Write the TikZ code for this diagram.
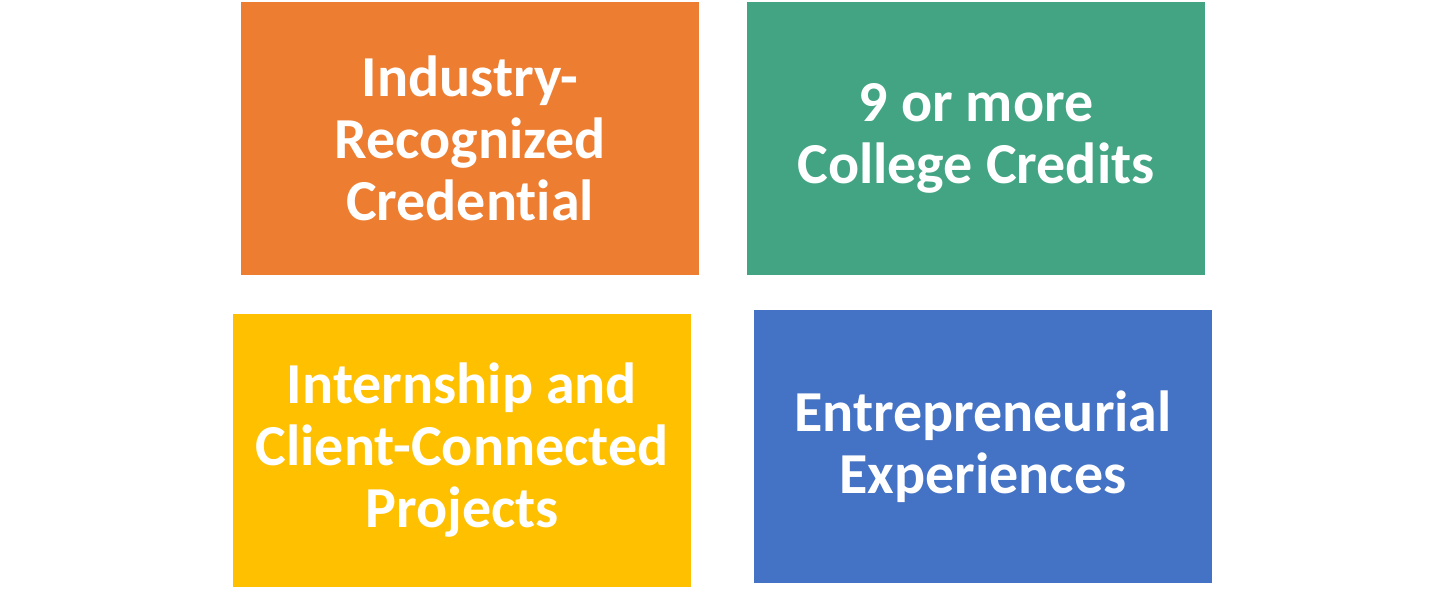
\documentclass[tikz,border=0pt]{standalone}
\usepackage{fontspec}
\setmainfont[Ligatures=NoCommon]{Carlito}
\usetikzlibrary{positioning}

\definecolor{credorange}{HTML}{ED7D31}
\definecolor{credgreen}{HTML}{43A484}
\definecolor{credyellow}{HTML}{FFC000}
\definecolor{credblue}{HTML}{4472C4}

\begin{document}
\begin{tikzpicture}[
    x=1pt, y=-1pt,
    box/.style={minimum width=458pt, minimum height=273pt, inner sep=0pt, align=center,
      text=white, font=\bfseries\fontsize{58}{62}\selectfont}
  ]
    \useasboundingbox (0,0) rectangle (1448,600);
    \node[box, fill=credorange] (credential) at (470,138.5) {Industry-\\Recognized\\Credential};
    \node[box, fill=credgreen] (credits) at (976,138.5) {9 or more\\College Credits};
    \node[box, fill=credyellow] (internship) at (462,450.5) {Internship and\\Client-Connected\\Projects};
    \node[box, fill=credblue] (entrepreneur) at (983,446.5) {Entrepreneurial\\Experiences};
  \end{tikzpicture}
\end{document}
